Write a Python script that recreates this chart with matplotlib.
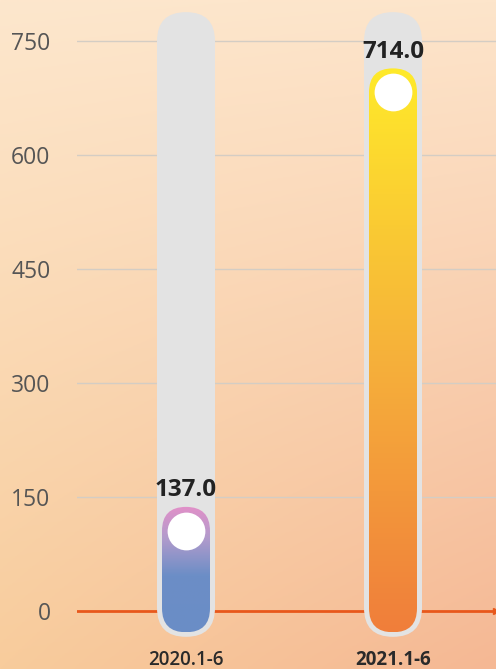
import numpy as np
import matplotlib
matplotlib.use("Agg")
import matplotlib.pyplot as plt
from matplotlib.patches import FancyBboxPatch
from matplotlib.colors import to_rgb, LinearSegmentedColormap
from matplotlib.transforms import offset_copy

plt.rcParams['font.family'] = ['Open Sans', 'DejaVu Sans']

# data
categories = ['2020.1-6', '2021.1-6']
values = [137.0, 714.0]
yticks = [0, 150, 300, 450, 600, 750]
track_max = 788

W, H = 496, 669
fig = plt.figure(figsize=(W / 100, H / 100), dpi=100)

# background gradient
bg = fig.add_axes([0, 0, 1, 1], zorder=0)
bg.axis('off')
tl, tr = np.array(to_rgb('#fde7cd')), np.array(to_rgb('#fde5cb'))
bl, br = np.array(to_rgb('#f8cc9c')), np.array(to_rgb('#f5b894'))
u = np.linspace(0, 1, 200)[None, :, None]
v = np.linspace(0, 1, 200)[:, None, None]
img = (1 - v) * ((1 - u) * tl + u * tr) + v * ((1 - u) * bl + u * br)
bg.imshow(img, aspect='auto', extent=[0, 1, 0, 1], origin='upper')
bg.set_xlim(0, 1)
bg.set_ylim(0, 1)

# main axes: full height, starts at left of grid
left = 77 / W
ax = fig.add_axes([left, 0, 1 - left, 1], zorder=1)
ax.patch.set_alpha(0)
px_per_y = 0.76
ax.set_ylim(-(H - 611) / px_per_y, 611 / px_per_y)
px_per_x = 207
ax.set_xlim(-(186 - 77) / px_per_x, (W - 186) / px_per_x)

for s in ax.spines.values():
    s.set_visible(False)
ax.set_yticks(yticks)
ax.set_yticklabels([str(t) for t in yticks], fontsize=16.5, color='#555555')
ax.tick_params(axis='y', length=0, pad=19)
ax.set_xticks([])
for t in yticks[1:]:
    ax.axhline(t, color='#d4cdc4', lw=1, zorder=1)
ax.axhline(0, color='#e8581c', lw=2, zorder=2)
ax.plot(ax.get_xlim()[1], 0, marker='>', ms=4, color='#e8581c', clip_on=True, zorder=2)

aspect = px_per_x / px_per_y
track_w = 58 / px_per_x
bar_w = 48 / px_per_x

grads = [
    [(0, '#6a8dc6'), (0.45, '#6c8ec6'), (0.75, '#b29bcc'), (1, '#e290c8')],
    [(0, '#f07e3b'), (0.5, '#f6b23a'), (1, '#ffea2a')],
]

for i, (cat, val) in enumerate(zip(categories, values)):
    # grey track
    y0 = -34
    track = FancyBboxPatch((i - track_w / 2, y0), track_w, track_max - y0,
                           boxstyle='round,pad=0,rounding_size=%f' % (track_w / 2),
                           mutation_aspect=aspect, fc='#e3e3e3', ec='none', zorder=3)
    ax.add_patch(track)
    # coloured bar
    b0 = -28
    bar = FancyBboxPatch((i - bar_w / 2, b0), bar_w, val - b0,
                         boxstyle='round,pad=0,rounding_size=%f' % (bar_w / 2),
                         mutation_aspect=aspect, fc='none', ec='none', zorder=4)
    ax.add_patch(bar)
    cmap = LinearSegmentedColormap.from_list('g%d' % i, grads[i])
    grad = np.linspace(0, 1, 256)[:, None]
    im = ax.imshow(grad, cmap=cmap, aspect='auto', origin='lower',
                   extent=[i - bar_w / 2, i + bar_w / 2, b0, val], zorder=4)
    im.set_clip_path(bar)
    # white knob
    tr_knob = offset_copy(ax.transData, fig=fig, y=-24 * 0.72, units='points')
    ax.scatter([i], [val], s=740, color='white', transform=tr_knob, zorder=5, lw=0)
    # value label
    ax.annotate('%.1f' % val, (i, val), xytext=(0, 12), textcoords='offset points',
                ha='center', va='center', fontsize=17.5, fontweight='bold',
                color='#222222', zorder=6)
    # category label
    ax.text(i, -(660 - 611) / px_per_y, cat, ha='center', va='center',
            fontsize=13.5, fontweight='semibold' if i == 0 else 'bold', color='#2a2a2a')

fig.savefig('out.png', dpi=100)
